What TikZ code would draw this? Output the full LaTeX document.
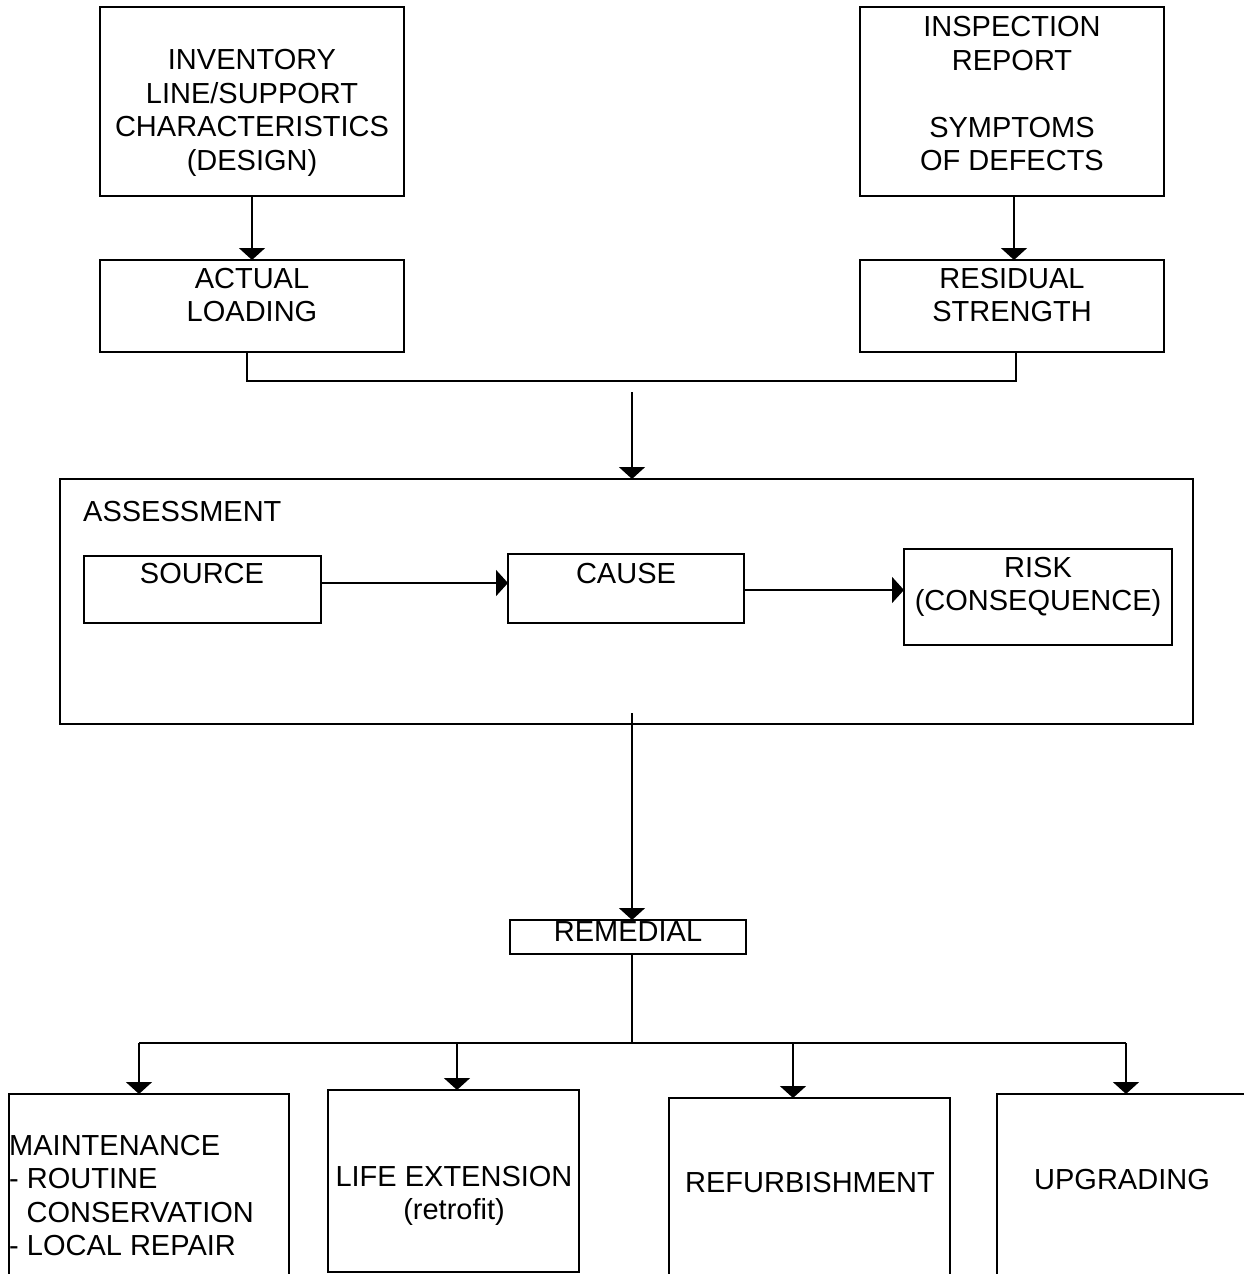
\documentclass[tikz,border=0pt]{standalone}
\usepackage{fontspec}
\setmainfont{Liberation Sans}
\usetikzlibrary{arrows.meta,calc}
\begin{document}
\begin{tikzpicture}[x=1pt,y=-1pt,
  box/.style={draw, line width=1.7pt, inner sep=0pt, outer sep=0pt},
  txt/.style={font=\fontsize{29}{33.5}\selectfont, align=center, inner sep=0pt},
  ln/.style={line width=1.7pt},
  arr/.style={line width=1.7pt, -{Triangle[width=26pt,length=12pt]}}]
\useasboundingbox (0,0) rectangle (1244,1274);
\clip (0,0) rectangle (1244,1274);
% boxes
\node[box, minimum width=304pt, minimum height=189pt] (inv) at (252,101.5) {};
\node[box, minimum width=304pt, minimum height=189pt] (insp) at (1012,101.5) {};
\node[box, minimum width=304pt, minimum height=92pt] (load) at (252,306) {};
\node[box, minimum width=304pt, minimum height=92pt] (resid) at (1012,306) {};
\node[box, minimum width=1133pt, minimum height=245pt] (assess) at (626.5,601.5) {};
\node[box, minimum width=237pt, minimum height=67pt] (source) at (202.5,589.5) {};
\node[box, minimum width=236pt, minimum height=69pt] (cause) at (626,588.5) {};
\node[box, minimum width=268pt, minimum height=96pt] (risk) at (1038,597) {};
\node[box, minimum width=236pt, minimum height=34pt] (remed) at (628,937) {};
\node[box, minimum width=280pt, minimum height=206pt] (maint) at (149,1197) {};
\node[box, minimum width=251pt, minimum height=182pt] (life) at (453.5,1181) {};
\node[box, minimum width=281pt, minimum height=202pt] (refurb) at (809.5,1199) {};
\node[box, minimum width=273pt, minimum height=206pt] (upgr) at (1133.5,1197) {};
% texts
\node[txt] (tinv) at (252,113) {INVENTORY\\LINE/SUPPORT\\CHARACTERISTICS\\(DESIGN)};
\node[txt] (tinsp) at (1012,94) {INSPECTION\\REPORT\\\mbox{}\\SYMPTOMS\\OF DEFECTS};
\node[txt] (tload) at (252,295) {ACTUAL\\LOADING};
\node[txt] (tresid) at (1012,295) {RESIDUAL\\STRENGTH};
\node[txt, anchor=west] (tassess) at (83,512) {ASSESSMENT};
\node[txt] (tsource) at (202,574) {SOURCE};
\node[txt] (tcause) at (626,574) {CAUSE};
\node[txt] (trisk) at (1038,587) {RISK\\(CONSEQUENCE)};
\node[txt] (tremed) at (628,932) {REMEDIAL};
\node[txt, align=left, anchor=west] (tmaint) at (9,1195.5) {MAINTENANCE\\- ROUTINE\\\hspace*{17.5pt}CONSERVATION\\- LOCAL REPAIR};
\node[txt] (tlife) at (454,1196) {LIFE EXTENSION\\(retrofit)};
\node[txt] (trefurb) at (810,1183) {REFURBISHMENT};
\node[txt] (tupgr) at (1122,1180) {UPGRADING};
% connectors
\draw[arr] (inv.south) -- (load.north);
\coordinate (ti) at (1014,0);
\draw[arr] (insp.south -| ti) -- (resid.north -| ti);
\coordinate (jl) at (247,381);
\coordinate (jr) at (1016,381);
\draw[ln] (load.south -| jl) -- (jl) -- (jr) -- (resid.south -| jr);
\coordinate (a1) at (632,392);
\draw[arr] (a1) -- (a1 |- assess.north);
\coordinate (ya) at (0,583);
\coordinate (yb) at (0,590);
\draw[arr] (source.east |- ya) -- (cause.west |- ya);
\draw[arr] (cause.east |- yb) -- (risk.west |- yb);
\coordinate (a2) at (632,713);
\draw[arr] (a2) -- (a2 |- remed.north);
\coordinate (hub) at (632,1043);
\draw[ln] (remed.south -| hub) -- (hub);
\coordinate (h1) at (139,1043);
\coordinate (h2) at (457,1043);
\coordinate (h3) at (793,1043);
\coordinate (h4) at (1126,1043);
\draw[ln] (h1) -- (h4);
\draw[arr] (h1) -- (h1 |- maint.north);
\draw[arr] (h2) -- (h2 |- life.north);
\draw[arr] (h3) -- (h3 |- refurb.north);
\draw[arr] (h4) -- (h4 |- upgr.north);
\end{tikzpicture}
\end{document}
